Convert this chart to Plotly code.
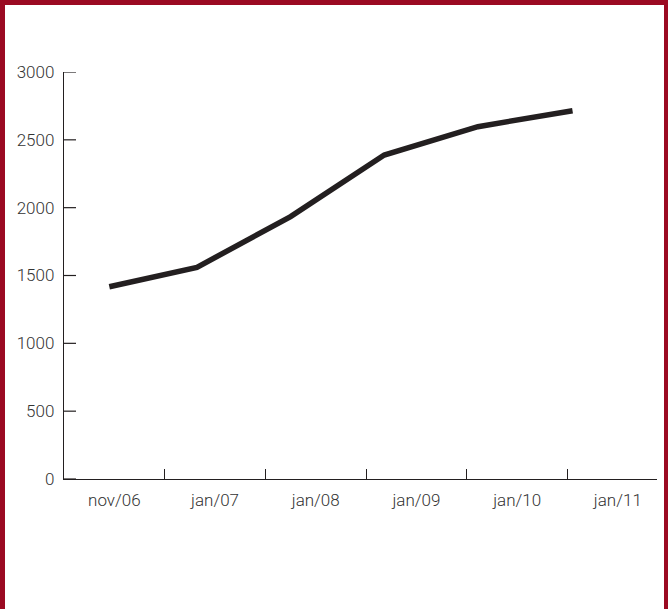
import plotly.graph_objects as go

# Data
categories = ["nov/06", "jan/07", "jan/08", "jan/09", "jan/10", "jan/11"]
point_pos = [0.45, 1.32, 2.25, 3.18, 4.11, 5.05]   # x position of each point (category-width units)
values = [1417, 1560, 1934, 2388, 2597, 2715]
y_ticks = [0, 500, 1000, 1500, 2000, 2500, 3000]

W, H = 668, 609
ML, MR, MT, MB = 64, 11, 72, 130
pw, ph = W - ML - MR, H - MT - MB

fig = go.Figure()
fig.add_trace(go.Scatter(
    x=point_pos, y=values, mode="lines",
    line=dict(color="#231f20", width=5.5),
    hoverinfo="skip", showlegend=False,
))

label_pos = [i + 0.5 for i in range(len(categories))]
boundaries = [i for i in range(1, len(categories))]

axis_col = "#231f20"
font = dict(family="Roboto, sans-serif", size=17, color="#333333", weight=300)

fig.update_xaxes(
    range=[0, pw / 100.7], showgrid=False, zeroline=False,
    showline=True, linecolor=axis_col, linewidth=1.2,
    tickmode="array", tickvals=label_pos, ticktext=categories,
    ticks="", tickfont=font, ticklabelstandoff=5,
    minor=dict(tickmode="array", tickvals=boundaries, ticks="inside",
               ticklen=10, tickcolor=axis_col, tickwidth=1.2, showgrid=False),
)
fig.update_yaxes(
    range=[0, 3000], showgrid=False, zeroline=False,
    showline=True, linecolor=axis_col, linewidth=1.2,
    tickmode="array", tickvals=y_ticks,
    ticks="", tickfont=font, ticklabelstandoff=5,
)

border = "#9b0a22"
def px2paper_x(px):
    return (px - ML) / pw
def px2paper_y(py):
    return 1 - (py - MT) / ph

shapes = [
    dict(type="rect", xref="paper", yref="paper", x0=px2paper_x(0), x1=px2paper_x(5),
         y0=px2paper_y(H + 5), y1=px2paper_y(0), fillcolor=border, line_width=0, layer="above"),
    dict(type="rect", xref="paper", yref="paper", x0=px2paper_x(0), x1=px2paper_x(W),
         y0=px2paper_y(5), y1=px2paper_y(0), fillcolor=border, line_width=0, layer="above"),
    dict(type="rect", xref="paper", yref="paper", x0=px2paper_x(W - 4), x1=px2paper_x(W),
         y0=px2paper_y(H + 5), y1=px2paper_y(0), fillcolor=border, line_width=0, layer="above"),
]
# inside y-axis tick marks
for v in y_ticks:
    shapes.append(dict(type="line", xref="paper", yref="y", x0=0, x1=12 / pw, y0=v, y1=v,
                       line=dict(color=axis_col, width=1.2), layer="above"))

fig.update_layout(
    width=W, height=H,
    margin=dict(l=ML, r=MR, t=MT, b=MB),
    paper_bgcolor="white", plot_bgcolor="white",
    shapes=shapes, showlegend=False,
)

fig.write_html("out.html", config={"displayModeBar": False, "staticPlot": True},
               post_script="document.body.style.margin='0';document.body.style.overflow='hidden';")
